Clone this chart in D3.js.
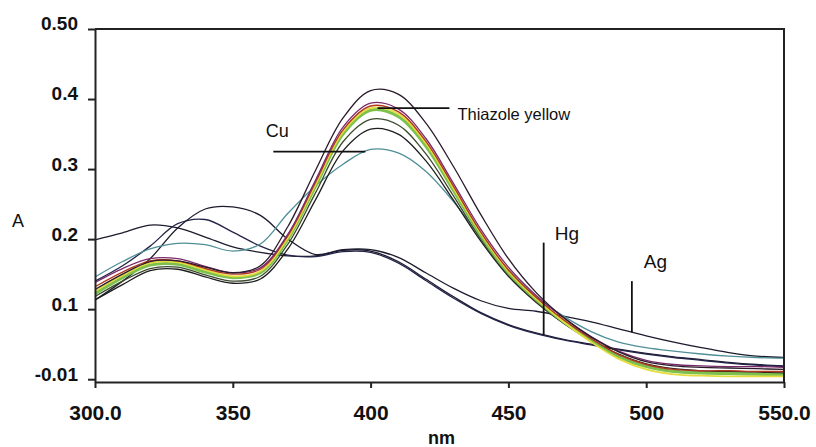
<!DOCTYPE html>
<meta charset="utf-8">
<style>
  body { margin: 0; background: #fff; font-family: "Liberation Sans", Arial, sans-serif; }
  svg { display: block; }
</style>
<body>
<svg></svg>
<script src="https://cdn.jsdelivr.net/npm/d3@7"></script>
<script>

// wavelengths (nm) shared by every spectrum
var wavelengths = [300, 310, 320, 330, 340, 350, 360, 370, 380, 390, 400, 410, 420,
                   430, 440, 450, 460, 470, 480, 490, 500, 510, 520, 530, 540, 550];

// thiazole yellow + metal spectra (absorbance)
var tyTop    = [0.128, 0.150, 0.168, 0.169, 0.160, 0.152, 0.162, 0.218, 0.298, 0.373, 0.412, 0.407, 0.366,
                0.304, 0.235, 0.172, 0.124, 0.088, 0.060, 0.039, 0.025, 0.019, 0.017, 0.016, 0.015, 0.014];
var tyPurple = [0.138, 0.158, 0.172, 0.172, 0.161, 0.152, 0.159, 0.207, 0.284, 0.360, 0.394, 0.386, 0.344,
                0.280, 0.214, 0.160, 0.120, 0.088, 0.061, 0.040, 0.027, 0.021, 0.019, 0.018, 0.018, 0.017];
var tyRed    = [0.132, 0.153, 0.169, 0.169, 0.158, 0.150, 0.157, 0.205, 0.281, 0.356, 0.390, 0.382, 0.340,
                0.276, 0.210, 0.156, 0.117, 0.085, 0.058, 0.035, 0.021, 0.014, 0.012, 0.012, 0.011, 0.011];
var tyYellow = [0.126, 0.148, 0.166, 0.167, 0.156, 0.147, 0.154, 0.202, 0.278, 0.353, 0.387, 0.379, 0.337,
                0.273, 0.208, 0.154, 0.115, 0.082, 0.053, 0.029, 0.014, 0.007, 0.005, 0.004, 0.004, 0.004];
var tyGreen  = [0.122, 0.145, 0.163, 0.164, 0.153, 0.145, 0.152, 0.200, 0.275, 0.350, 0.384, 0.375, 0.333,
                0.270, 0.205, 0.152, 0.114, 0.082, 0.055, 0.032, 0.018, 0.011, 0.009, 0.008, 0.007, 0.006];
var tyOlive  = [0.118, 0.140, 0.158, 0.160, 0.149, 0.140, 0.147, 0.193, 0.266, 0.339, 0.371, 0.363, 0.322,
                0.262, 0.200, 0.149, 0.111, 0.080, 0.055, 0.033, 0.019, 0.012, 0.010, 0.009, 0.008, 0.008];
var tyBlack  = [0.113, 0.135, 0.155, 0.157, 0.146, 0.137, 0.143, 0.186, 0.256, 0.326, 0.357, 0.350, 0.312,
                0.256, 0.197, 0.147, 0.110, 0.080, 0.056, 0.036, 0.022, 0.015, 0.012, 0.011, 0.010, 0.010];
var cuValues = [0.146, 0.168, 0.186, 0.194, 0.192, 0.183, 0.193, 0.237, 0.276, 0.307, 0.328, 0.323, 0.297,
                0.254, 0.202, 0.156, 0.118, 0.090, 0.068, 0.053, 0.045, 0.040, 0.036, 0.033, 0.031, 0.030];
var agValues = [0.113, 0.140, 0.172, 0.216, 0.243, 0.246, 0.234, 0.200, 0.178, 0.185, 0.185, 0.174, 0.152,
                0.130, 0.112, 0.101, 0.097, 0.090, 0.082, 0.072, 0.062, 0.053, 0.045, 0.038, 0.033, 0.031];
var hgValues = [0.199, 0.209, 0.220, 0.216, 0.203, 0.189, 0.181, 0.176, 0.176, 0.184, 0.183, 0.168, 0.143,
                0.118, 0.095, 0.078, 0.066, 0.057, 0.050, 0.043, 0.037, 0.032, 0.028, 0.024, 0.021, 0.019];
var otherValues = [0.140, 0.162, 0.190, 0.222, 0.228, 0.210, 0.190, 0.177, 0.175, 0.182, 0.181, 0.166, 0.141,
                   0.116, 0.094, 0.077, 0.065, 0.056, 0.049, 0.042, 0.036, 0.031, 0.027, 0.023, 0.020, 0.018];

var xTicks = [300, 350, 400, 450, 500, 550];
var xTickLabels = ["300.0", "350", "400", "450", "500", "550.0"];
var yTicks = [0, 0.1, 0.2, 0.3, 0.4, 0.5];
var yTickLabels = ["-0.01", "0.1", "0.2", "0.3", "0.4", "0.50"];

// annotation labels: [text, nm, A, font size]
var labels = [["Cu", 362, 0.346, 18], ["Thiazole yellow", 431.5, 0.370, 16.5],
              ["Hg", 466.8, 0.199, 19], ["Ag", 499.1, 0.159, 19]];
// annotation leaders: [nm1, A1, nm2, A2]
var leaders = [[364.7, 0.325, 398.1, 0.325], [402.5, 0.387, 428.6, 0.387],
               [462.8, 0.195, 462.8, 0.063], [494.8, 0.140, 494.8, 0.067]];

var width = 816, height = 447;
var x = d3.scaleLinear().domain([300, 550]).range([95, 784]);
var y = d3.scaleLinear().domain([-0.004, 0.5]).range([382, 29]);

var svg = d3.select("svg").attr("width", width).attr("height", height);

var series = [
  { v: hgValues, c: "#1c1c2e", w: 1.3 },
  { v: otherValues, c: "#24244a", w: 1.3 },
  { v: agValues, c: "#1c1c2e", w: 1.3 },
  { v: cuValues, c: "#4f8f96", w: 1.3 },
  { v: tyBlack, c: "#1e1e1e", w: 1.3 },
  { v: tyOlive, c: "#3c4a2c", w: 1.3 },
  { v: tyGreen, c: "#7cc04e", w: 3 },
  { v: tyYellow, c: "#e4dc3c", w: 1.8 },
  { v: tyRed, c: "#b0381e", w: 1.4 },
  { v: tyPurple, c: "#7a2a6a", w: 1.3 },
  { v: tyTop, c: "#2a1a2a", w: 1.3 }
];

var line = d3.line()
    .x(function (d, i) { return x(wavelengths[i]); })
    .y(function (d) { return y(d); })
    .curve(d3.curveCatmullRom);

svg.append("g").selectAll("path")
    .data(series)
    .enter().append("path")
    .attr("d", function (s) { return line(s.v); })
    .attr("fill", "none")
    .attr("stroke", function (s) { return s.c; })
    .attr("stroke-width", function (s) { return s.w; });

// axes
var yAxis = d3.axisLeft(y).tickValues(yTicks)
    .tickFormat(function (d, i) { return yTickLabels[i]; })
    .tickSizeInner(7).tickSizeOuter(0).tickPadding(10);
var xAxis = d3.axisBottom(x).tickValues(xTicks)
    .tickFormat(function (d, i) { return xTickLabels[i]; })
    .tickSizeInner(6).tickSizeOuter(0).tickPadding(17);

var gy = svg.append("g").attr("transform", "translate(95,0)").call(yAxis);
gy.selectAll("text").attr("dy", "0.05em")
    .style("font-size", "19px").style("font-weight", "bold");

var gx = svg.append("g").attr("transform", "translate(0,382)").call(xAxis);
gx.selectAll("text").style("font-size", "21px").style("font-weight", "bold");

svg.selectAll(".domain, .tick line").attr("stroke", "#222").attr("stroke-width", 2);
svg.selectAll(".tick text").attr("fill", "#111").style("font-family", "'Liberation Sans', Arial, sans-serif");

// top and right frame
svg.append("path")
    .attr("d", "M" + x(300) + "," + y(0.5) + "H" + x(550) + "V" + y(-0.004))
    .attr("fill", "none").attr("stroke", "#222").attr("stroke-width", 2);

// axis titles
svg.append("text").attr("x", 12).attr("y", 227).text("A")
    .style("font-size", "18px").attr("fill", "#111");
svg.append("text").attr("x", 428).attr("y", 444).text("nm")
    .style("font-size", "18px").style("font-weight", "bold").attr("fill", "#111");

// annotations
svg.append("g").selectAll("line")
    .data(leaders)
    .enter().append("line")
    .attr("x1", function (d) { return x(d[0]); })
    .attr("y1", function (d) { return y(d[1]); })
    .attr("x2", function (d) { return x(d[2]); })
    .attr("y2", function (d) { return y(d[3]); })
    .attr("stroke", "#111").attr("stroke-width", 1.8);

svg.append("g").selectAll("text")
    .data(labels)
    .enter().append("text")
    .attr("x", function (d) { return x(d[1]); })
    .attr("y", function (d) { return y(d[2]); })
    .style("font-size", function (d) { return d[3] + "px"; })
    .attr("fill", "#111")
    .text(function (d) { return d[0]; });

</script>
</body>
